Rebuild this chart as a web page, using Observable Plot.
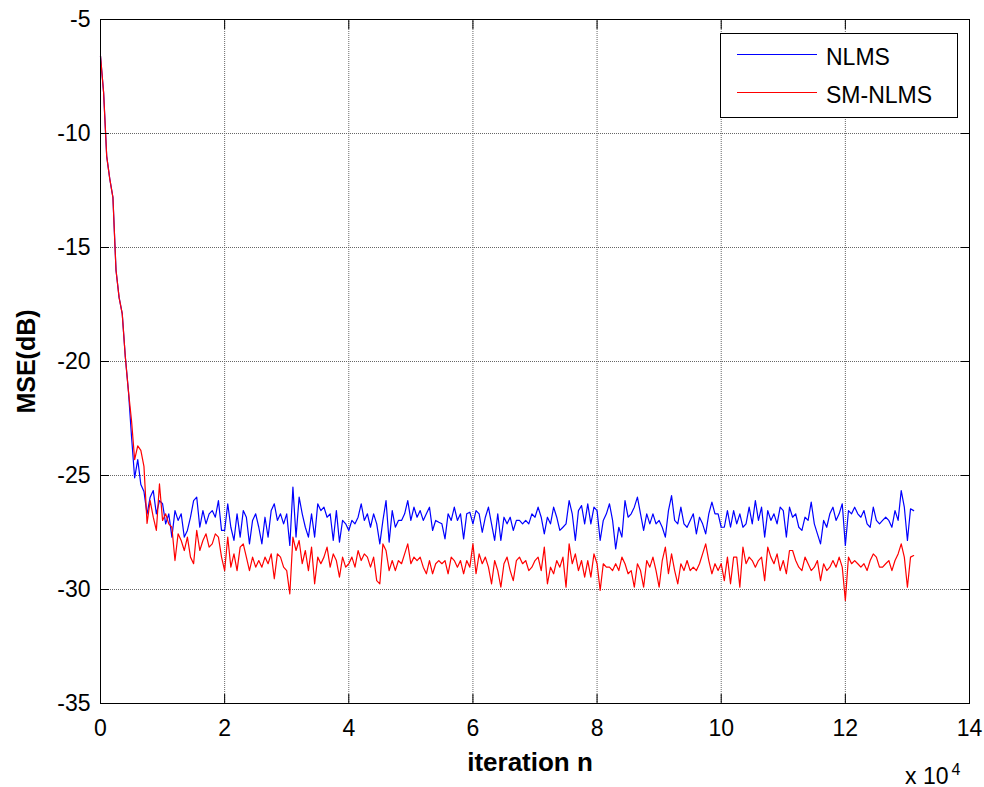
<!DOCTYPE html>
<html><head><meta charset="utf-8">
<script src="https://cdn.jsdelivr.net/npm/d3@7"></script>
<script src="https://cdn.jsdelivr.net/npm/@observablehq/plot@0.6"></script>
<style>
body{margin:0;background:#fff;}
#wrap{position:relative;width:984px;height:787px;font-family:"Liberation Sans",Arial,Helvetica,sans-serif;}
#legend{position:absolute;left:720px;top:33px;width:236px;height:83px;border:1px solid #000;background:#fff;}
.lg-line{position:absolute;left:16px;width:80px;height:1px;}
.lg-text{position:absolute;left:105px;font-size:23px;line-height:23px;color:#000;white-space:nowrap;}
</style></head>
<body><div id="wrap"></div>
<script>
const iterStep = 500;
const nlms = [
 -6.6,-8.2,-11.0,-12.0,-12.8,-16.0,-17.2,-17.9,-19.8,-21.3,-23.3,-25.1,-24.3,-25.4,-25.7,-26.7,
 -25.95,-25.66,-26.68,-26.10,-26.24,-27.12,-26.68,-27.70,-26.54,-26.97,-26.68,-27.70,-27.41,-26.83,-26.10,-25.95,
 -27.27,-26.54,-27.12,-26.68,-26.54,-26.83,-26.10,-27.41,-27.41,-26.24,-27.27,-27.85,-26.68,-27.70,-26.54,-26.83,
 -28.00,-26.97,-26.68,-27.27,-28.00,-26.83,-27.70,-26.54,-26.24,-26.97,-26.68,-27.12,-26.68,-28.07,-25.51,-27.70,
 -25.95,-26.68,-27.27,-27.70,-26.68,-27.70,-26.24,-26.54,-26.39,-26.83,-26.68,-27.85,-26.54,-27.92,-26.97,-27.12,
 -27.41,-26.97,-27.12,-26.83,-26.24,-26.97,-26.68,-27.27,-26.68,-27.12,-28.00,-26.97,-26.10,-27.92,-26.54,-27.27,
 -26.97,-26.97,-26.68,-26.10,-26.97,-26.39,-26.83,-26.54,-26.97,-26.68,-26.39,-27.41,-26.97,-27.05,
 -27.12,-27.78,-26.68,-26.97,-26.39,-26.97,-26.68,-27.78,-26.68,-26.61,-27.12,-26.54,-26.68,-27.49,-26.83,-26.39,
 -27.12,-27.85,-26.68,-27.85,-26.83,-27.12,-26.83,-27.41,-26.97,-26.97,-27.12,-26.97,-27.12,-26.68,-26.83,-26.39,
 -26.83,-27.56,-26.83,-27.12,-26.39,-26.83,-27.41,-27.27,-27.12,-26.10,-26.68,-27.85,-26.54,-26.32,-27.12,
 -26.24,-27.12,-26.39,-26.54,-27.85,-26.97,-26.68,-26.24,-26.97,-28.22,-27.27,-27.70,-26.10,-26.83,-26.68,-26.39,
 -25.95,-26.68,-27.41,-26.68,-27.12,-26.68,-27.12,-26.97,-27.27,-27.70,-26.54,-25.88,-26.97,-27.12,-26.39,-27.12,
 -27.27,-26.97,-26.68,-27.56,-26.83,-27.12,-27.56,-26.68,-26.17,-26.68,-26.68,-27.27,-27.27,-26.54,-27.27,
 -26.54,-27.12,-26.68,-27.27,-27.12,-26.39,-27.12,-26.10,-26.97,-26.39,-27.70,-26.54,-26.97,-26.68,-27.12,-26.39,
 -26.54,-27.70,-26.39,-26.83,-26.68,-27.27,-27.41,-26.83,-26.97,-26.17,-27.12,-27.56,-28.00,-26.97,-27.27,-26.68,
 -26.39,-26.97,-26.68,-26.24,-28.07,-26.54,-26.68,-26.39,-26.68,-26.83,-26.54,-27.12,-27.27,-26.39,-26.97,-27.12,
 -26.97,-26.83,-26.97,-27.27,-26.54,-26.97,-25.66,-26.39,-27.85,-26.46,-26.54
];
const smnlms = [
 -6.6,-8.2,-11.0,-12.0,-12.8,-16.0,-17.2,-17.9,-19.8,-21.3,-22.6,-24.3,-23.7,-23.9,-24.6,-27.1,
 -26.10,-26.83,-27.41,-25.37,-26.97,-26.68,-27.12,-27.27,-28.73,-27.56,-27.85,-28.29,-27.70,-28.58,-28.87,-27.41,
 -28.29,-27.85,-27.56,-28.14,-28.00,-27.56,-27.70,-28.58,-29.17,-27.70,-29.02,-28.44,-29.17,-28.14,-28.00,-28.58,
 -29.17,-28.58,-29.02,-28.73,-29.02,-28.58,-28.87,-28.44,-29.53,-28.44,-28.58,-29.02,-29.17,-30.19,-27.70,-28.29,
 -27.85,-28.87,-28.29,-29.17,-28.14,-29.75,-28.58,-28.87,-28.58,-28.14,-29.02,-28.44,-28.73,-29.46,-28.58,-29.02,
 -28.87,-28.58,-29.02,-28.29,-28.73,-28.44,-28.58,-29.02,-28.58,-29.61,-29.75,-28.00,-28.29,-29.17,-28.73,-29.17,
 -28.73,-28.87,-28.44,-28.00,-28.87,-28.58,-28.73,-28.58,-29.02,-29.31,-28.73,-29.31,-28.87,-28.73,
 -28.87,-28.73,-29.31,-28.58,-28.73,-29.02,-28.73,-29.31,-28.73,-29.02,-28.00,-29.31,-28.44,-28.87,-28.58,-29.02,
 -29.75,-28.73,-29.17,-29.90,-28.87,-28.58,-29.17,-29.61,-28.73,-28.58,-28.87,-28.73,-29.17,-29.02,-28.73,-28.58,
 -29.17,-28.14,-29.75,-29.02,-29.31,-28.73,-29.02,-28.58,-29.90,-28.00,-28.87,-28.44,-29.17,-28.73,-29.46,
 -28.73,-29.46,-28.44,-28.87,-30.04,-28.87,-29.02,-29.02,-29.17,-28.87,-29.17,-28.58,-28.87,-29.31,-29.17,-29.90,
 -28.87,-29.17,-29.90,-28.73,-29.02,-28.58,-29.17,-29.90,-28.73,-28.14,-29.31,-28.44,-29.17,-29.75,-28.87,-29.17,
 -28.73,-29.17,-29.02,-29.17,-28.87,-28.44,-28.00,-28.73,-29.31,-28.87,-29.17,-28.87,-29.61,-28.58,-29.75,
 -28.58,-28.58,-29.90,-28.14,-28.87,-28.58,-28.73,-29.02,-28.73,-28.58,-29.61,-28.14,-28.58,-28.87,-28.44,-29.17,
 -28.73,-29.31,-28.29,-28.29,-28.73,-29.02,-29.17,-28.58,-28.87,-29.17,-29.02,-28.73,-29.61,-28.87,-29.17,-29.02,
 -28.73,-29.02,-28.58,-29.02,-30.48,-28.58,-28.87,-28.73,-28.87,-29.02,-28.87,-29.17,-28.73,-28.44,-28.58,-29.02,
 -29.02,-28.87,-28.73,-29.17,-28.73,-28.44,-28.00,-28.58,-29.90,-28.58,-28.51
];
const seriesNames = ["NLMS", "SM-NLMS"];
const seriesColors = ["#0000ff", "#ff0000"];
const xTicks = [0, 2, 4, 6, 8, 10, 12, 14];
const yTicks = [-35, -30, -25, -20, -15, -10, -5];
const xLabel = "iteration n";
const yLabel = "MSE(dB)";

const xOf = (d, i) => (i * iterStep) / 1e4;
const noText = () => "";

const chart = Plot.plot({
  width: 984, height: 787,
  marginLeft: 100, marginRight: 15, marginTop: 19, marginBottom: 84,
  style: {fontFamily: "Liberation Sans, Arial, Helvetica, sans-serif", fontSize: "23px", background: "#fff", color: "#000", overflow: "visible"},
  x: {domain: [0, 14]},
  y: {domain: [-35, -5]},
  marks: [
    Plot.gridX(xTicks, {stroke: "#666", strokeOpacity: 1, strokeDasharray: "1,1"}),
    Plot.gridY(yTicks, {stroke: "#666", strokeOpacity: 1, strokeDasharray: "1,1"}),
    Plot.line(nlms, {x: xOf, y: d => d, stroke: seriesColors[0], strokeWidth: 1.2}),
    Plot.line(smnlms, {x: xOf, y: d => d, stroke: seriesColors[1], strokeWidth: 1.2}),
    Plot.frame({stroke: "#000"}),
    // inward tick marks on all four sides
    Plot.axisX(xTicks, {anchor: "bottom", tickSize: 9, dy: -9, tickFormat: noText, label: null}),
    Plot.axisX(xTicks, {anchor: "top", tickSize: 9, dy: 9, tickFormat: noText, label: null}),
    Plot.axisY(yTicks, {anchor: "left", tickSize: 9, dx: 9, tickFormat: noText, label: null}),
    Plot.axisY(yTicks, {anchor: "right", tickSize: 9, dx: -9, tickFormat: noText, label: null}),
    // tick labels
    Plot.axisX(xTicks, {anchor: "bottom", tickSize: 0, tickPadding: 16, tickFormat: d => String(d), fontSize: 23, label: null}),
    Plot.axisY(yTicks, {anchor: "left", tickSize: 0, tickPadding: 10, tickFormat: d => String(d), fontSize: 23, label: null}),
    Plot.text([yLabel], {frameAnchor: "left", dx: -74, rotate: -90, textAnchor: "middle", lineAnchor: "middle", fontSize: 25, fontWeight: "bold"}),
    Plot.text([xLabel], {frameAnchor: "bottom", dx: -5, dy: 59, textAnchor: "middle", lineAnchor: "middle", fontSize: 26, fontWeight: "bold"}),
    Plot.text(["x 10"], {frameAnchor: "bottom-right", dx: -21, dy: 73, textAnchor: "end", lineAnchor: "middle", fontSize: 23}),
    Plot.text(["4"], {frameAnchor: "bottom-right", dx: -18, dy: 66, textAnchor: "start", lineAnchor: "middle", fontSize: 16})
  ]
});
const wrap = document.getElementById("wrap");
wrap.appendChild(chart);

// legend
const lg = document.createElement("div");
lg.id = "legend";
seriesNames.forEach((name, k) => {
  const line = document.createElement("div");
  line.className = "lg-line";
  line.style.top = (20 + 38 * k) + "px";
  line.style.background = seriesColors[k];
  lg.appendChild(line);
  const t = document.createElement("div");
  t.className = "lg-text";
  t.style.top = (11.5 + 38 * k) + "px";
  t.textContent = name;
  lg.appendChild(t);
});
wrap.appendChild(lg);
</script>
</body></html>
